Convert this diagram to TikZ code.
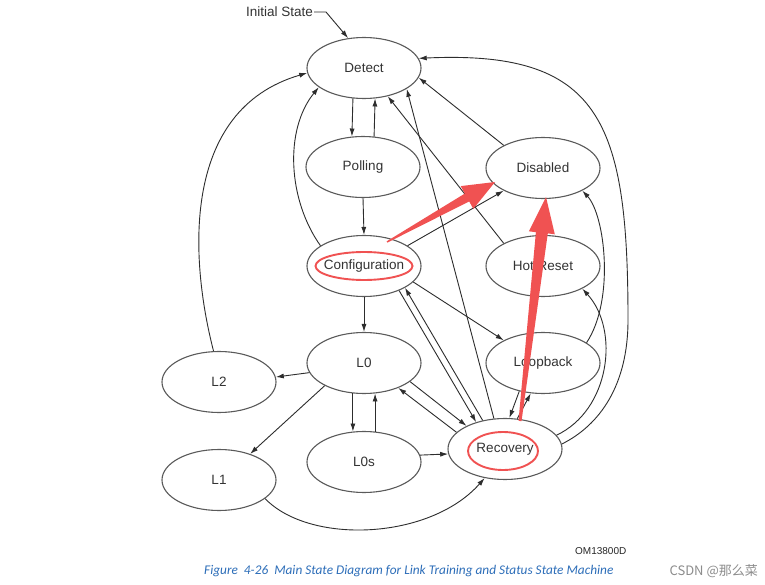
\documentclass[tikz,border=0pt]{standalone}
\usepackage{fontspec}
\newfontfamily\arialfont{Liberation Sans}
\newfontfamily\capfont{Carlito}
\newfontfamily\cjkfont{Noto Sans CJK SC}
\usepackage{tikz}
\usetikzlibrary{
    arrows.meta,
    shapes.geometric
}
\definecolor{stroke}{RGB}{90,90,90}
\definecolor{wire}{RGB}{45,45,45}
\definecolor{markred}{RGB}{240,82,82}
\definecolor{capblue}{RGB}{45,110,185}

\begin{document}
\begin{tikzpicture}[x=1pt,y=-1pt,
    ltssm/.style={ellipse,draw=stroke,line width=1.1pt,minimum width=114pt,minimum height=61pt,inner sep=0pt,
        font=\arialfont\fontsize{13.5}{16}\selectfont,text=black!80},
    link/.style={draw=wire,line width=0.9pt,-{Latex[length=8pt,width=5pt]}},
    redring/.style={draw=markred,line width=1.9pt}]

\useasboundingbox[fill=white] (0,0) rectangle (765,585);

% States
\node[ltssm] (detect) at (364,68) {Detect};
\node[ltssm] (polling) at (363,167) {Polling};
\node[ltssm] (disabled) at (543,168) {Disabled};
\node[ltssm] (config) at (364,266) {Configuration};
\node[ltssm] (hotreset) at (543,266) {Hot Reset};
\node[ltssm] (l0) at (364,363) {L0};
\node[ltssm] (loopback) at (543,363) {Loopback};
\node[ltssm] (l2) at (219,382) {L2};
\node[ltssm] (l0s) at (364,462) {L0s};
\node[ltssm] (l1) at (219,480) {L1};
\node[ltssm] (recovery) at (505,449) {Recovery};

% Entry point
\node[font=\arialfont\fontsize{13.5}{16}\selectfont,text=black!80,anchor=east,inner sep=1pt] (init) at (314,12) {Initial State};
\draw[link] (init.east) -- ++(12,0) -- (detect.118);

% Detect, Polling, Configuration
\draw[link] (detect.-110) -- (polling.110);
\draw[link] (polling.70) -- (detect.-70);
\draw[link] (polling.south) -- (config.north);
\draw[link] (config.155) .. controls (288,200) and (284,130) .. (detect.-157);
\draw[link] (config.25) -- (disabled.210);
\draw[link] (config.-18) -- (loopback.150);
\draw[link] (config.-35) -- (recovery.137);
\draw[link] (recovery.128) -- (config.-28);
\draw[link] (config.south) -- (l0.north);

% Exits back to Detect
\draw[link] (disabled.150) -- (detect.-10);
\draw[link] (hotreset.150) -- (detect.-50);
\draw[link] (recovery.110) -- (detect.-26);
\draw[link] (l2.100) .. controls (190,260) and (180,110) .. (detect.185);
\draw[link] (recovery.5) .. controls (600,425) and (628,385) .. (628,320)
    .. controls (628,120) and (600,50) .. (detect.10);

% Power states
\draw[link] (l0.190) -- (l2.5);
\draw[link] (l0.210) -- (l1.40);
\draw[link] (l0.-110) -- (l0s.110);
\draw[link] (l0s.70) -- (l0.-70);
\draw[link] (l0s.7) -- (recovery.185);
\draw[link] (l1.-22) .. controls (310,545) and (430,540) .. (recovery.-125);

% Recovery
\draw[link] (l0.-22) -- (recovery.149);
\draw[link] (recovery.161) -- (l0.-36);
\draw[link] (loopback.-130) -- (recovery.82);
\draw[link] (recovery.68) -- (loopback.-112);
\draw[link] (recovery.15) .. controls (610,410) and (620,330) .. (hotreset.-30);
\draw[link] (loopback.25) .. controls (615,300) and (605,215) .. (disabled.-30);

% Red marks
\draw[redring] (364,266) ellipse [x radius=48.5, y radius=14];
\draw[redring] (503,451) ellipse [x radius=35, y radius=19];
\fill[markred] (386.6,241.4) -- (464.8,193.6) -- (460.7,186.1) -- (495,182)
    -- (473.3,208.9) -- (469.2,201.4) -- (387.4,242.6) -- cycle;
\fill[markred] (518.5,420.9) -- (535.9,232.2) -- (528.9,231.3) -- (546,197)
    -- (554.8,234.3) -- (547.8,233.4) -- (521.5,421.1) -- cycle;

% Caption
\node[font=\arialfont\fontsize{10}{12}\selectfont,text=black!85,anchor=west,inner sep=0pt] (code) at (575,551) {OM13800D};
\node[font=\capfont\itshape\fontsize{13.3}{15}\selectfont,text=capblue,anchor=west,inner sep=0pt] (cap) at (204,571)
    {Figure\ \ 4-26\ \ Main State Diagram for Link Training and Status State Machine};
\node[font=\cjkfont\fontsize{13}{15}\selectfont,text=black!45,anchor=east,inner sep=0pt] (mark) at (758,571) {CSDN @那么菜};

\end{tikzpicture}
\end{document}
